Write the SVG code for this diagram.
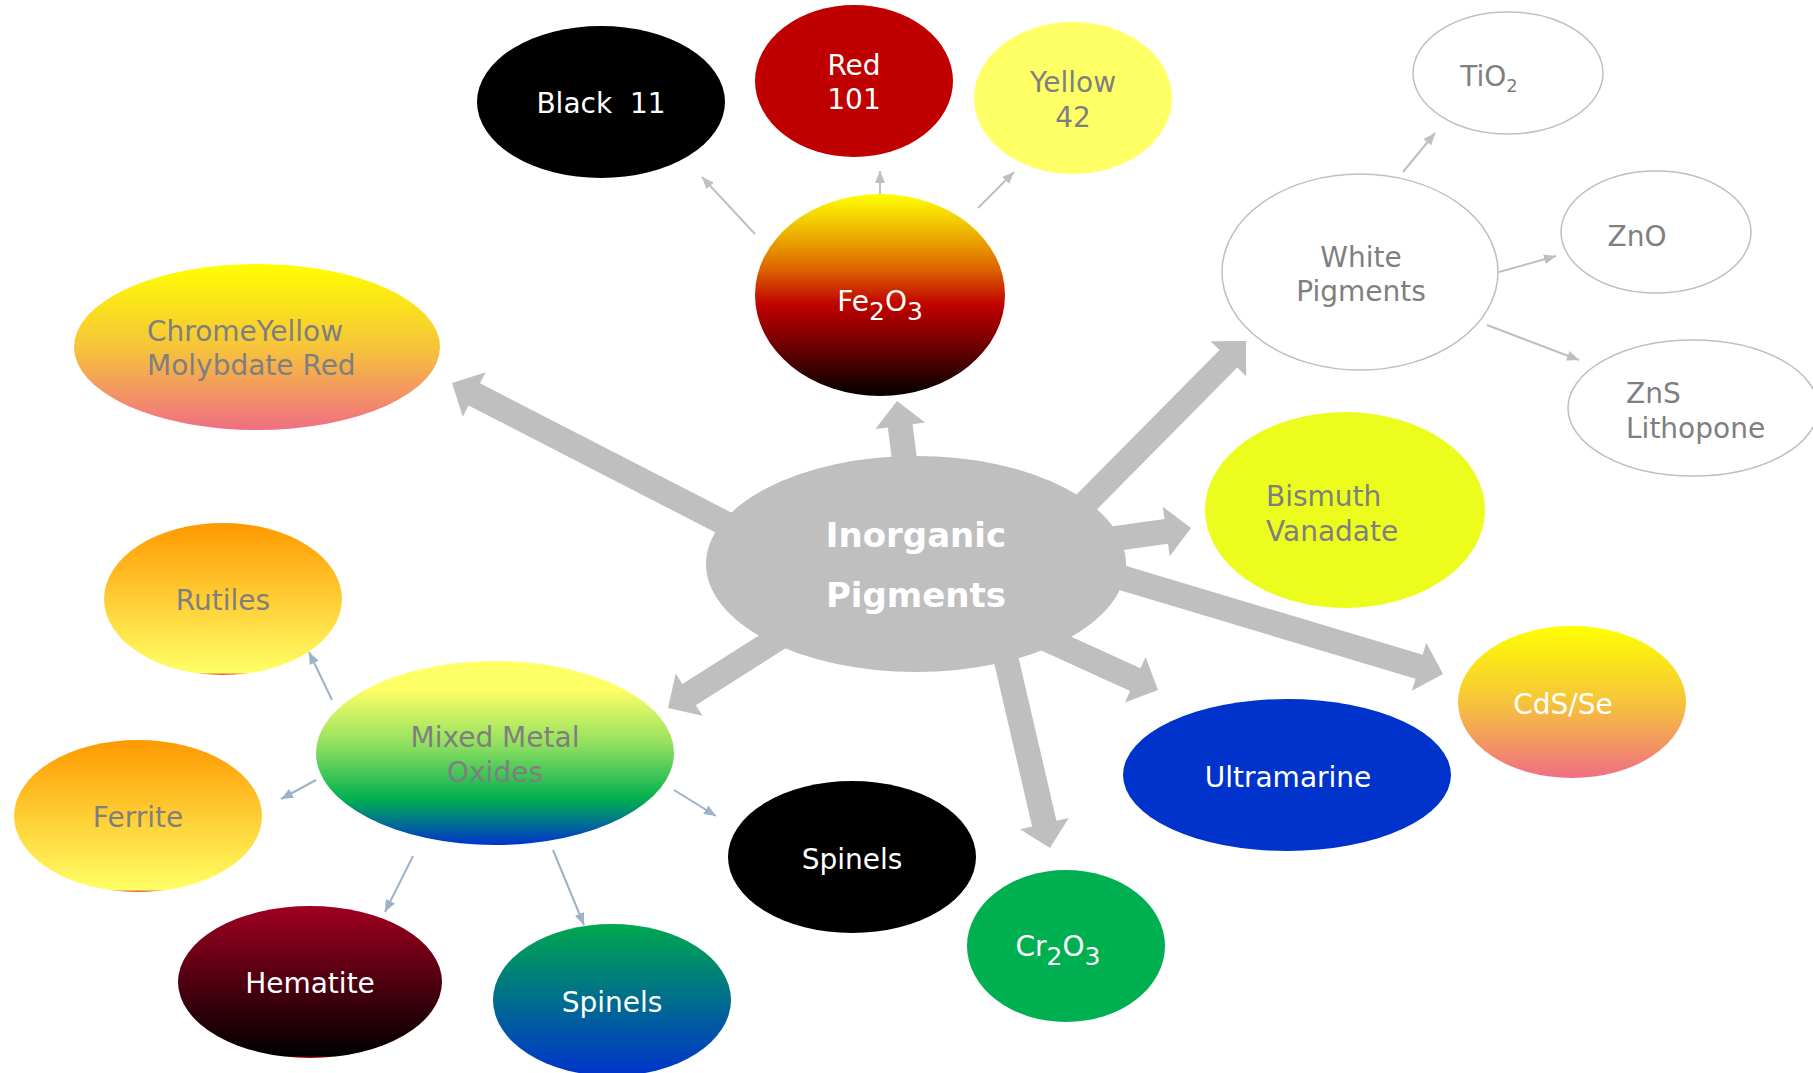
<svg xmlns="http://www.w3.org/2000/svg" width="1813" height="1073" viewBox="0 0 1813 1073">
  <style>
    .thick{fill:#BFBFBF}
    .thin{stroke:#BFBFBF;stroke-width:2;fill:none;marker-end:url(#ah)}
    .thinb{stroke:#9DB1C8;stroke-width:2;fill:none;marker-end:url(#ahb)}
    .lbl{font-family:"DejaVu Sans",Verdana,sans-serif;font-size:28px;text-anchor:middle}
    .left{text-anchor:start}
    .w{fill:#FFFFFF}
    .g{fill:#7F7F7F}
    .outline{fill:#FFFFFF;stroke:#BFBFBF;stroke-width:1.5}
  </style>
  <defs>
    <marker id="ah" viewBox="0 0 12 10" refX="12" refY="5" markerWidth="12" markerHeight="10" markerUnits="userSpaceOnUse" orient="auto">
      <path d="M0,0 L12,5 L0,10 z" fill="#BFBFBF"/>
    </marker>
    <marker id="ahb" viewBox="0 0 12 10" refX="12" refY="5" markerWidth="12" markerHeight="10" markerUnits="userSpaceOnUse" orient="auto">
      <path d="M0,0 L12,5 L0,10 z" fill="#9DB1C8"/>
    </marker>
    <linearGradient id="gFe" x1="0" y1="0" x2="0" y2="1">
      <stop offset="0" stop-color="#FFFF00"/>
      <stop offset="0.2" stop-color="#EDB000"/>
      <stop offset="0.38" stop-color="#DB6000"/>
      <stop offset="0.55" stop-color="#C00000"/>
      <stop offset="0.75" stop-color="#700000"/>
      <stop offset="1" stop-color="#000000"/>
    </linearGradient>
    <linearGradient id="gChrome" x1="0" y1="0" x2="0" y2="1">
      <stop offset="0" stop-color="#FFFF00"/>
      <stop offset="0.5" stop-color="#F6C43A"/>
      <stop offset="1" stop-color="#EF6F84"/>
    </linearGradient>
    <linearGradient id="gOrange" x1="0" y1="0" x2="0" y2="1">
      <stop offset="0" stop-color="#FF9900"/>
      <stop offset="0.985" stop-color="#FFFF66"/>
      <stop offset="1" stop-color="#E03010"/>
    </linearGradient>
    <linearGradient id="gMmo" x1="0" y1="0" x2="0" y2="1">
      <stop offset="0" stop-color="#FFFF66"/>
      <stop offset="0.15" stop-color="#FFFF66"/>
      <stop offset="0.45" stop-color="#92E060"/>
      <stop offset="0.75" stop-color="#00B050"/>
      <stop offset="1" stop-color="#0033CC"/>
    </linearGradient>
    <linearGradient id="gTeal" x1="0" y1="0" x2="0" y2="1">
      <stop offset="0" stop-color="#00A84E"/>
      <stop offset="1" stop-color="#0033CC"/>
    </linearGradient>
    <linearGradient id="gHem" x1="0" y1="0" x2="0" y2="1">
      <stop offset="0" stop-color="#A00020"/>
      <stop offset="0.985" stop-color="#000000"/>
      <stop offset="1" stop-color="#C00000"/>
    </linearGradient>
  </defs>

  <rect width="1813" height="1073" fill="#FFFFFF"/>

  <!-- connectors: broad block arrows from the hub, thin arrows between sub-nodes -->
  <g id="connectors">
    <polygon class="thick" transform="translate(452,383) rotate(207.2)" points="-335,-12.5 -25,-12.5 -25,-25 0,0 -25,25 -25,12.5 -335,12.5"/>
    <polygon class="thick" transform="translate(897,401) rotate(262.7)" points="-90,-12.5 -25,-12.5 -25,-25 0,0 -25,25 -25,12.5 -90,12.5"/>
    <polygon class="thick" transform="translate(1246,341) rotate(-45.3)" points="-260,-12.5 -25,-12.5 -25,-25 0,0 -25,25 -25,12.5 -260,12.5"/>
    <polygon class="thick" transform="translate(1191,528) rotate(-8)" points="-140,-12.5 -25,-12.5 -25,-25 0,0 -25,25 -25,12.5 -140,12.5"/>
    <polygon class="thick" transform="translate(1443,674) rotate(16.7)" points="-370,-12.5 -25,-12.5 -25,-25 0,0 -25,25 -25,12.5 -370,12.5"/>
    <polygon class="thick" transform="translate(1158,690) rotate(24.5)" points="-170,-12.5 -25,-12.5 -25,-25 0,0 -25,25 -25,12.5 -170,12.5"/>
    <polygon class="thick" transform="translate(1050,848) rotate(76.9)" points="-240,-12.5 -25,-12.5 -25,-25 0,0 -25,25 -25,12.5 -240,12.5"/>
    <polygon class="thick" transform="translate(668,708) rotate(147.6)" points="-170,-12.5 -25,-12.5 -25,-25 0,0 -25,25 -25,12.5 -170,12.5"/>

    <line class="thin" x1="755" y1="234" x2="702" y2="177"/>
    <line class="thin" x1="880" y1="194" x2="880" y2="171"/>
    <line class="thin" x1="978" y1="208" x2="1014" y2="172"/>
    <line class="thin" x1="1403" y1="172" x2="1435" y2="133"/>
    <line class="thin" x1="1499" y1="272" x2="1556" y2="256"/>
    <line class="thin" x1="1487" y1="325" x2="1579" y2="360"/>

    <line class="thinb" x1="332" y1="700" x2="309" y2="652"/>
    <line class="thinb" x1="316" y1="780" x2="281" y2="799"/>
    <line class="thinb" x1="413" y1="856" x2="385" y2="912"/>
    <line class="thinb" x1="553" y1="850" x2="584" y2="925"/>
    <line class="thinb" x1="674" y1="790" x2="716" y2="816"/>
  </g>

  <g id="hub">
    <ellipse cx="916" cy="564" rx="210" ry="108" fill="#BFBFBF"/>
    <text class="lbl w" x="916" y="547" style="font-weight:bold;font-size:34px">Inorganic</text>
    <text class="lbl w" x="916" y="607" style="font-weight:bold;font-size:34px">Pigments</text>
  </g>

  <g id="black11">
    <ellipse cx="601" cy="102" rx="124" ry="76" fill="#000000"/>
    <text class="lbl w" x="601" y="113" xml:space="preserve">Black  11</text>
  </g>
  <g id="red101">
    <ellipse cx="854" cy="81" rx="99" ry="76" fill="#C00000"/>
    <text class="lbl w" x="854" y="75">Red</text>
    <text class="lbl w" x="854" y="109">101</text>
  </g>
  <g id="yellow42">
    <ellipse cx="1073" cy="98" rx="99" ry="76" fill="#FFFF66"/>
    <text class="lbl g" x="1073" y="92">Yellow</text>
    <text class="lbl g" x="1073" y="127">42</text>
  </g>
  <g id="fe2o3">
    <ellipse cx="880" cy="295" rx="125" ry="101" fill="url(#gFe)"/>
    <text class="lbl w" x="880" y="311">Fe<tspan dy="9" font-size="25">2</tspan><tspan dy="-9">O</tspan><tspan dy="9" font-size="25">3</tspan></text>
  </g>
  <g id="chrome">
    <ellipse cx="257" cy="347" rx="183" ry="83" fill="url(#gChrome)"/>
    <text class="lbl g left" x="147" y="341">ChromeYellow</text>
    <text class="lbl g left" x="147" y="375">Molybdate Red</text>
  </g>
  <g id="white">
    <ellipse class="outline" cx="1360" cy="272" rx="138" ry="98"/>
    <text class="lbl g" x="1361" y="267">White</text>
    <text class="lbl g" x="1361" y="301">Pigments</text>
  </g>
  <g id="tio2">
    <ellipse class="outline" cx="1508" cy="73" rx="95" ry="61"/>
    <text class="lbl g" x="1489" y="86">TiO<tspan dy="6" font-size="18">2</tspan></text>
  </g>
  <g id="zno">
    <ellipse class="outline" cx="1656" cy="232" rx="95" ry="61"/>
    <text class="lbl g" x="1637" y="246">ZnO</text>
  </g>
  <g id="zns">
    <ellipse class="outline" cx="1693" cy="408" rx="125" ry="68"/>
    <text class="lbl g left" x="1626" y="403">ZnS</text>
    <text class="lbl g left" x="1626" y="438">Lithopone</text>
  </g>
  <g id="bismuth">
    <ellipse cx="1345" cy="510" rx="140" ry="98" fill="#ECFC1C"/>
    <text class="lbl g left" x="1266" y="506">Bismuth</text>
    <text class="lbl g left" x="1266" y="541">Vanadate</text>
  </g>
  <g id="cdsse">
    <ellipse cx="1572" cy="702" rx="114" ry="76" fill="url(#gChrome)"/>
    <text class="lbl w" x="1563" y="714">CdS/Se</text>
  </g>
  <g id="ultramarine">
    <ellipse cx="1287" cy="775" rx="164" ry="76" fill="#0033CC"/>
    <text class="lbl w" x="1288" y="787">Ultramarine</text>
  </g>
  <g id="cr2o3">
    <ellipse cx="1066" cy="946" rx="99" ry="76" fill="#00B050"/>
    <text class="lbl w" x="1058" y="956">Cr<tspan dy="9" font-size="25">2</tspan><tspan dy="-9">O</tspan><tspan dy="9" font-size="25">3</tspan></text>
  </g>
  <g id="spinels-black">
    <ellipse cx="852" cy="857" rx="124" ry="76" fill="#000000"/>
    <text class="lbl w" x="852" y="869">Spinels</text>
  </g>
  <g id="spinels-blue">
    <ellipse cx="612" cy="1000" rx="119" ry="76" fill="url(#gTeal)"/>
    <text class="lbl w" x="612" y="1012">Spinels</text>
  </g>
  <g id="hematite">
    <ellipse cx="310" cy="982" rx="132" ry="76" fill="url(#gHem)"/>
    <text class="lbl w" x="310" y="993">Hematite</text>
  </g>
  <g id="mixed-metal-oxides">
    <ellipse cx="495" cy="753" rx="179" ry="92" fill="url(#gMmo)"/>
    <text class="lbl g" x="495" y="747">Mixed Metal</text>
    <text class="lbl g" x="495" y="782">Oxides</text>
  </g>
  <g id="rutiles">
    <ellipse cx="223" cy="599" rx="119" ry="76" fill="url(#gOrange)"/>
    <text class="lbl g" x="223" y="610">Rutiles</text>
  </g>
  <g id="ferrite">
    <ellipse cx="138" cy="816" rx="124" ry="76" fill="url(#gOrange)"/>
    <text class="lbl g" x="138" y="827">Ferrite</text>
  </g>
</svg>
